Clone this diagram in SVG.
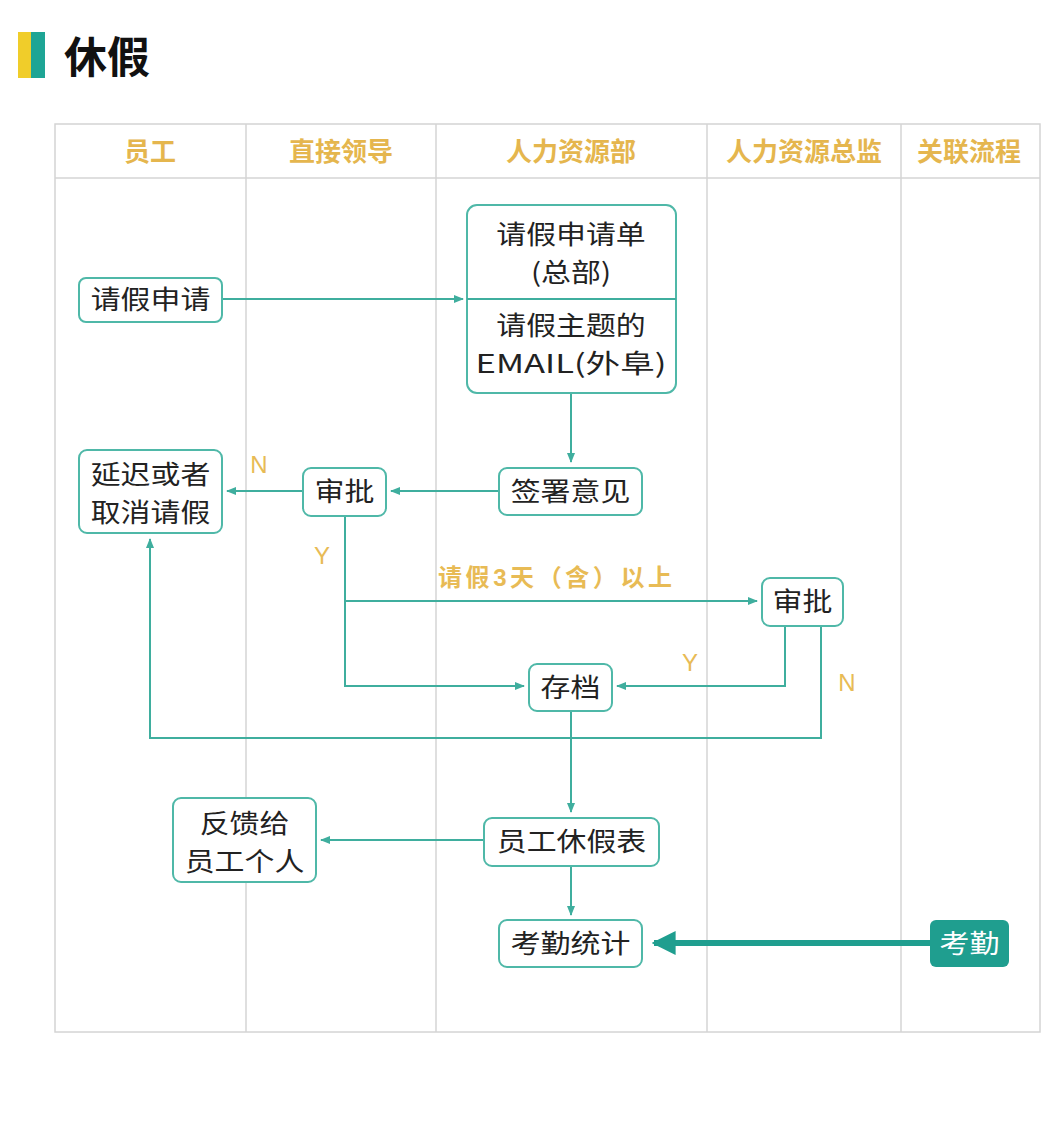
<svg xmlns="http://www.w3.org/2000/svg" width="1050" height="1142" viewBox="0 0 1050 1142">
<style>
.grid{stroke:#d4d4d4;stroke-width:1.5;fill:none}
.hdr{font-family:"Noto Sans CJK SC","Noto Sans",sans-serif;font-size:26px;font-weight:bold;fill:#e5b64e;text-anchor:middle}
.box{fill:#fff;stroke:#4fb8a8;stroke-width:2}
.t{font-family:"Noto Sans CJK SC","Liberation Sans",sans-serif;font-size:26px;fill:#222;text-anchor:middle}
.lbl{font-family:"Liberation Sans","Noto Sans CJK SC",sans-serif;font-size:24px;fill:#e8bb55;text-anchor:middle}
.c{stroke:#3fae9e;stroke-width:2;fill:none}
</style>
<defs>
<marker id="ah" viewBox="0 0 10 10" refX="9" refY="5" markerWidth="5" markerHeight="5" orient="auto-start-reverse">
<path d="M0,1 L10,5 L0,9 Z" fill="#3fae9e"/>
</marker>
<marker id="ahb" viewBox="0 0 10 10" refX="9" refY="5" markerWidth="4" markerHeight="4" orient="auto">
<path d="M0,0 L10,5 L0,10 Z" fill="#1f9e8f"/>
</marker>
</defs>
<rect width="1050" height="1142" fill="#fff"/>
<g id="title">
<rect x="18" y="32" width="13" height="46" fill="#f0cd2a"/>
<rect x="31" y="32" width="14" height="46" fill="#1ea595"/>
<text x="64" y="73" font-family="Noto Sans CJK SC,sans-serif" font-size="43" font-weight="bold" fill="#111">休假</text>
</g>
<g id="table">
<rect class="grid" x="55" y="124" width="985" height="908"/>
<line class="grid" x1="55" y1="178" x2="1040" y2="178"/>
<line class="grid" x1="246" y1="124" x2="246" y2="1032"/>
<line class="grid" x1="436" y1="124" x2="436" y2="1032"/>
<line class="grid" x1="707" y1="124" x2="707" y2="1032"/>
<line class="grid" x1="901" y1="124" x2="901" y2="1032"/>
<text class="hdr" x="150" y="161">员工</text>
<text class="hdr" x="341" y="161">直接领导</text>
<text class="hdr" x="571" y="161">人力资源部</text>
<text class="hdr" x="804" y="161">人力资源总监</text>
<text class="hdr" x="969" y="161">关联流程</text>
</g>
<g id="connectors">
<line class="c" x1="222" y1="299" x2="463" y2="299" marker-end="url(#ah)"/>
<line class="c" x1="571" y1="393" x2="571" y2="462" marker-end="url(#ah)"/>
<line class="c" x1="499" y1="491" x2="391" y2="491" marker-end="url(#ah)"/>
<line class="c" x1="303" y1="491" x2="227" y2="491" marker-end="url(#ah)"/>
<polyline class="c" points="345,516 345,686 524,686" marker-end="url(#ah)"/>
<line class="c" x1="345" y1="601" x2="757" y2="601" marker-end="url(#ah)"/>
<polyline class="c" points="785,626 785,686 617,686" marker-end="url(#ah)"/>
<polyline class="c" points="821,626 821,738 150,738 150,539" marker-end="url(#ah)"/>
<line class="c" x1="571" y1="711" x2="571" y2="812" marker-end="url(#ah)"/>
<line class="c" x1="484" y1="840" x2="321" y2="840" marker-end="url(#ah)"/>
<line class="c" x1="571" y1="866" x2="571" y2="915" marker-end="url(#ah)"/>
<line x1="930" y1="943" x2="654" y2="943" stroke="#1f9e8f" stroke-width="6" marker-end="url(#ahb)"/>
<text class="lbl" x="259" y="473">N</text>
<text class="lbl" x="322" y="564">Y</text>
<text class="lbl" x="555" y="586" font-family="Noto Sans CJK SC,sans-serif" font-weight="bold" textLength="234" lengthAdjust="spacing">请假3天（含）以上</text>
<text class="lbl" x="690" y="671">Y</text>
<text class="lbl" x="847" y="691">N</text>
</g>
<g id="n_apply">
<rect class="box" x="79" y="278" width="143" height="44" rx="7"/>
<g transform="translate(150.5,0) scale(1.15,1)"><text class="t" x="0" y="309">请假申请</text></g>
</g>
<g id="n_form">
<rect class="box" x="467" y="205" width="209" height="188" rx="10"/>
<line class="c" x1="467" y1="299" x2="676" y2="299"/>
<g transform="translate(571,0) scale(1.15,1)">
<text class="t" x="0" y="244">请假申请单</text>
<text class="t" x="0" y="282">(总部)</text>
<text class="t" x="0" y="335">请假主题的</text>
<text class="t" x="0" y="373" font-family="Liberation Sans,Noto Sans CJK SC,sans-serif" textLength="166" lengthAdjust="spacingAndGlyphs">EMAIL(外阜)</text>
</g>
</g>
<g id="n_sign">
<rect class="box" x="499" y="468" width="143" height="47" rx="8"/>
<g transform="translate(570.5,0) scale(1.15,1)"><text class="t" x="0" y="501">签署意见</text></g>
</g>
<g id="n_approve1">
<rect class="box" x="303" y="468" width="83" height="48" rx="8"/>
<g transform="translate(344.5,0) scale(1.15,1)"><text class="t" x="0" y="501">审批</text></g>
</g>
<g id="n_delay">
<rect class="box" x="79" y="450" width="143" height="83" rx="8"/>
<g transform="translate(150.5,0) scale(1.15,1)">
<text class="t" x="0" y="484">延迟或者</text>
<text class="t" x="0" y="522">取消请假</text>
</g>
</g>
<g id="n_approve2">
<rect class="box" x="762" y="578" width="81" height="48" rx="8"/>
<g transform="translate(802.5,0) scale(1.15,1)"><text class="t" x="0" y="611">审批</text></g>
</g>
<g id="n_archive">
<rect class="box" x="529" y="664" width="83" height="47" rx="8"/>
<g transform="translate(570.5,0) scale(1.15,1)"><text class="t" x="0" y="697">存档</text></g>
</g>
<g id="n_table">
<rect class="box" x="484" y="818" width="175" height="48" rx="8"/>
<g transform="translate(571.5,0) scale(1.15,1)"><text class="t" x="0" y="851">员工休假表</text></g>
</g>
<g id="n_feedback">
<rect class="box" x="173" y="798" width="143" height="84" rx="8"/>
<g transform="translate(244.5,0) scale(1.15,1)">
<text class="t" x="0" y="833">反馈给</text>
<text class="t" x="0" y="871">员工个人</text>
</g>
</g>
<g id="n_stats">
<rect class="box" x="499" y="920" width="143" height="47" rx="8"/>
<g transform="translate(570.5,0) scale(1.15,1)"><text class="t" x="0" y="953">考勤统计</text></g>
</g>
<g id="n_attend">
<rect x="930" y="920" width="79" height="47" rx="6" fill="#1f9e8f"/>
<g transform="translate(969.5,0) scale(1.15,1)"><text class="t" x="0" y="953" style="fill:#fff">考勤</text></g>
</g>
</svg>
